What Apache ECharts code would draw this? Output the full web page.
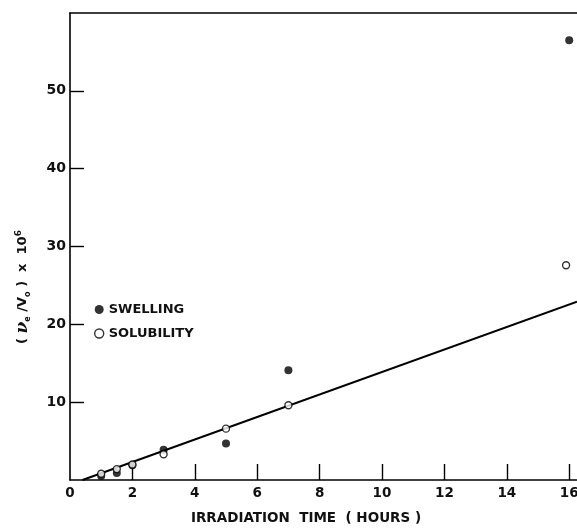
<!DOCTYPE html>
<html>
<head>
<meta charset="utf-8">
<script src="https://cdn.jsdelivr.net/npm/echarts@6/dist/echarts.min.js"></script>
<style>
  html, body { margin: 0; padding: 0; background: #fff; }
  #chart { width: 577px; height: 530px; }
</style>
</head>
<body>
<div id="chart"></div>
<script>
// Irradiation time (hours) for each measurement
var swellingHours = [1, 1.5, 2, 3, 5, 7, 16];
var swellingValues = [0.5, 0.9, 1.9, 3.9, 4.7, 14.1, 56.5];
var solubilityHours = [1, 1.5, 2, 3, 5, 7, 15.9];
var solubilityValues = [0.8, 1.4, 2.0, 3.3, 6.6, 9.6, 27.6];
// Straight-line fit through the solubility points
var fitHours = [0.4, 16.25];
var fitValues = [0, 22.9];
// Axis tick labels
var xTickValues = [2, 4, 6, 8, 10, 12, 14, 16];
var xLabelValues = [0, 2, 4, 6, 8, 10, 12, 14, 16];
var yTickValues = [10, 20, 30, 40, 50];

function pairs(xs, ys) {
  return xs.map(function (x, i) { return [x, ys[i]]; });
}

var FONT = "'DejaVu Sans', Arial, sans-serif";
var chart = echarts.init(document.getElementById('chart'), null, { renderer: 'canvas' });

chart.setOption({
  animation: false,
  backgroundColor: '#ffffff',
  grid: { left: 70, right: 0, top: 13, bottom: 50, containLabel: false, outerBoundsMode: 'none' },
  legend: {
    orient: 'vertical',
    left: 89,
    top: 298,
    itemGap: 11,
    itemWidth: 9,
    itemHeight: 9,
    textStyle: { fontFamily: FONT, fontWeight: 'bold', fontSize: 13, color: '#111' },
    data: [
      { name: 'SWELLING', icon: 'circle', itemStyle: { color: '#000', borderWidth: 0 } },
      { name: 'SOLUBILITY', icon: 'circle', itemStyle: { color: '#fff', borderColor: '#000', borderWidth: 1.4 } }
    ]
  },
  graphic: [
    {
      type: 'text',
      x: 306,
      y: 518,
      style: {
        text: 'IRRADIATION  TIME  ( HOURS )',
        font: 'bold 13.5px ' + FONT,
        fill: '#111',
        align: 'center',
        verticalAlign: 'middle'
      }
    },
    {
      type: 'text',
      x: 23,
      y: 287,
      rotation: Math.PI / 2,
      style: {
        text: '{p|( }{nu|ν}{sub|e}{p| /V}{sub|o}{p| )  x  10}{sup|6}',
        align: 'center',
        verticalAlign: 'middle',
        fill: '#111',
        rich: {
          p: { fontFamily: FONT, fontWeight: 'bold', fontSize: 13, fill: '#111' },
          nu: { fontFamily: 'DejaVu Serif, serif', fontStyle: 'italic', fontWeight: 'bold', fontSize: 17, fill: '#111' },
          sub: { fontFamily: FONT, fontWeight: 'bold', fontSize: 8, fill: '#111', verticalAlign: 'bottom', padding: [6, 0, 0, 0] },
          sup: { fontFamily: FONT, fontWeight: 'bold', fontSize: 9, fill: '#111', verticalAlign: 'top', padding: [0, 0, 7, 0] }
        }
      }
    }
  ],
  xAxis: [{
    type: 'value',
    min: 0,
    max: 16.25,
    position: 'bottom',
    splitLine: { show: false },
    axisLine: { show: true, lineStyle: { color: '#000', width: 1.6 } },
    axisTick: { show: true, inside: true, length: 16, customValues: xTickValues, lineStyle: { color: '#000', width: 1.4 } },
    axisLabel: {
      customValues: xLabelValues, margin: 6,
      fontFamily: FONT, fontWeight: 'bold', fontSize: 13.5, color: '#111'
    }
  }, {
    type: 'value',
    min: 0,
    max: 16.25,
    position: 'top',
    splitLine: { show: false },
    axisLine: { show: true, onZero: false, lineStyle: { color: '#000', width: 1.6 } },
    axisTick: { show: false },
    axisLabel: { show: false }
  }],
  yAxis: {
    type: 'value',
    min: 0,
    max: 60,
    splitLine: { show: false },
    axisLine: { show: true, lineStyle: { color: '#000', width: 1.6 } },
    axisTick: { show: true, inside: true, length: 14, customValues: yTickValues, lineStyle: { color: '#000', width: 1.4 } },
    axisLabel: {
      customValues: yTickValues, margin: 4,
      fontFamily: FONT, fontWeight: 'bold', fontSize: 14, color: '#111'
    }
  },
  series: [
    {
      name: 'fit',
      type: 'line',
      xAxisIndex: 0,
      data: pairs(fitHours, fitValues),
      showSymbol: false,
      symbol: 'none',
      clip: true,
      lineStyle: { color: '#000', width: 2 },
      silent: true,
      z: 2
    },
    {
      name: 'SWELLING',
      type: 'scatter',
      xAxisIndex: 0,
      data: pairs(swellingHours, swellingValues),
      symbol: 'circle',
      symbolSize: 8,
      itemStyle: { color: '#000', borderWidth: 0 },
      z: 3
    },
    {
      name: 'SOLUBILITY',
      type: 'scatter',
      xAxisIndex: 0,
      data: pairs(solubilityHours, solubilityValues),
      symbol: 'circle',
      symbolSize: 7,
      itemStyle: { color: '#fff', borderColor: '#000', borderWidth: 1.4 },
      z: 4
    }
  ]
});
</script>
</body>
</html>
